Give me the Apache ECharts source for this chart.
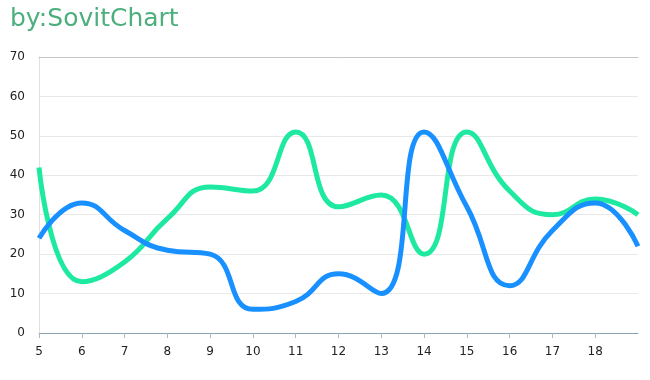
<!DOCTYPE html>
<html><head><meta charset="utf-8">
<script src="https://cdn.jsdelivr.net/npm/echarts@6/dist/echarts.min.js"></script>
<style>html,body{margin:0;padding:0;background:#fff}#c{width:650px;height:380px}</style>
</head><body><div id="c"></div>
<script>
const categories = ['5','6','7','8','9','10','11','12','13','14','15','16','17','18','19'];
const greenValues = [42,13,18,29,37,36,51,32,35,20,51,36,30,34,30];
const blueValues = [24,33,26,21,20,6,8,15,10,51,32,12,26,33,22];
const yTicks = {min:0, max:70, interval:10};

const chart = echarts.init(document.getElementById('c'));
chart.setOption({
  animation:false,
  title:{text:'by:SovitChart', left:5, top:2, textStyle:{color:'#4caf7d', fontSize:25, fontWeight:'normal', fontFamily:'DejaVu Sans'}},
  grid:{left:39, right:12, top:57, bottom:47},
  xAxis:[{
    type:'category', data:categories, boundaryGap:false,
    axisLine:{lineStyle:{color:'#8aa3b3'}},
    axisTick:{lineStyle:{color:'#aab8c2'}, interval:function(i){return i<categories.length-1;}},
    axisLabel:{color:'#222', fontSize:12, margin:13, showMaxLabel:false, fontFamily:'DejaVu Sans'}
  },{
    type:'category', position:'top', data:categories, boundaryGap:false,
    axisLine:{lineStyle:{color:'#c4c4c4'}}, axisTick:{show:false}, axisLabel:{show:false}
  }],
  yAxis:{type:'value', min:yTicks.min, max:yTicks.max, interval:yTicks.interval,
    axisLine:{show:true, lineStyle:{color:'#e0e0e0'}}, axisTick:{show:false},
    axisLabel:{color:'#222', fontSize:12, margin:14, fontFamily:'DejaVu Sans'},
    splitLine:{lineStyle:{color:'#e8e8e8'}}},
  series:[
    {type:'line', data:greenValues, smooth:true, showSymbol:false, lineStyle:{color:'#1de9a0', width:5}, itemStyle:{color:'#1de9a0'}},
    {type:'line', data:blueValues, smooth:true, showSymbol:false, lineStyle:{color:'#1890ff', width:5}, itemStyle:{color:'#1890ff'}}
  ]
});
</script></body></html>
